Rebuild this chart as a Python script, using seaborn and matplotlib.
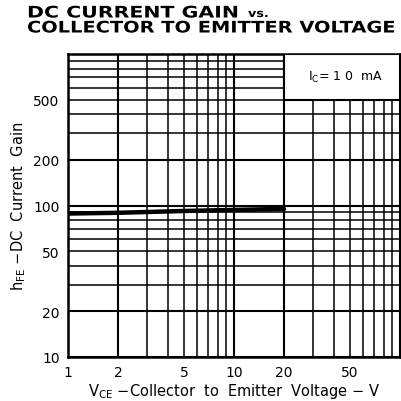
import matplotlib
matplotlib.use("Agg")
import matplotlib.pyplot as plt
import matplotlib.patches as patches
from matplotlib.patheffects import AbstractPathEffect
from matplotlib.transforms import Affine2D
import seaborn as sns
import pandas as pd
import numpy as np

# curve
vce = [1, 2, 5, 10, 20]
hfe = [88.5, 89.5, 92, 93.5, 95]

x_ticks = [1, 2, 5, 10, 20, 50]
y_ticks = [10, 20, 50, 100, 200, 500]
x_grid = [m * d for d in (1, 10) for m in range(1, 10)] + [100]
y_grid = [m * d for d in (10, 100) for m in range(1, 10)] + [1000]
major = [1, 10, 100, 1000, 2, 20, 200]

title_1 = "DC CURRENT GAIN"
title_vs = "vs."
title_2 = "COLLECTOR TO EMITTER VOLTAGE"
note = r"$\mathregular{I_C}$= 1 0  mA"

sns.set_style("white")
plt.rcParams['font.family'] = ['DejaVu Sans']
plt.rcParams['text.color'] = 'black'
plt.rcParams['axes.labelcolor'] = 'black'
plt.rcParams['xtick.color'] = 'black'
plt.rcParams['ytick.color'] = 'black'


class Stretch(AbstractPathEffect):
    """Widen text horizontally from its left end (wide printed letters)."""

    def __init__(self, sx):
        super().__init__()
        self.sx = sx

    def draw_path(self, renderer, gc, tpath, affine, rgbFace=None):
        x0, y0 = affine.transform((0, 0))
        aff = affine + Affine2D().translate(-x0, -y0).scale(self.sx, 1).translate(x0, y0)
        renderer.draw_path(gc, tpath, aff, rgbFace)


df = pd.DataFrame({"vce": vce, "hfe": hfe})

fig = plt.figure(figsize=(4.02, 4.02), dpi=100)
ax = fig.add_axes([68 / 402, 44 / 402, 332 / 402, 303 / 402])
ax.set_xscale("log")
ax.set_yscale("log")
ax.set_xlim(1, 100)
ax.set_ylim(10, 1000)

# printed log-log grid
for v in x_grid:
    ax.axvline(v, color="black", lw=1.5 if v in major else 1.1, zorder=1)
for v in y_grid:
    ax.axhline(v, color="black", lw=1.5 if v in major else 1.1, zorder=1)

sns.lineplot(data=df, x="vce", y="hfe", ax=ax, color="black", lw=3.2, zorder=3)

# label box in the upper right corner
ax.add_patch(patches.Rectangle((20, 500), 80, 500, facecolor="white",
                               edgecolor="black", lw=1.5, zorder=4))
ax.text(47, 710, note, ha="center", va="center", fontsize=9, zorder=5)

ax.set_xticks(x_ticks)
ax.set_xticklabels([str(t) for t in x_ticks])
ax.set_yticks(y_ticks)
ax.set_yticklabels([str(t) for t in y_ticks])
ax.xaxis.set_minor_locator(matplotlib.ticker.NullLocator())
ax.yaxis.set_minor_locator(matplotlib.ticker.NullLocator())
ax.tick_params(length=0, labelsize=10, pad=6)

ax.set_xlabel(r"$\mathregular{V_{CE}}$ $-$Collector  to  Emitter  Voltage $-$ V",
              fontsize=10.5, labelpad=1)
ax.set_ylabel(r"$\mathregular{h_{FE}}$ $-$DC  Current  Gain", fontsize=10.5, labelpad=4)
for s in ax.spines.values():
    s.set_linewidth(1.8)
    s.set_color("black")

# title, widened to the printed width
renderer = fig.canvas.get_renderer()
size = 11.5


def width(s):
    t = fig.text(0, 0, s, fontsize=size, fontweight="bold")
    w = t.get_window_extent(renderer).width
    t.remove()
    return w


sx1 = (240 - 27) / width(title_1)
sx2 = 370 / width(title_2)

fig.text(27 / 402, 1 - 21.5 / 402, title_1, ha="left", va="bottom",
         fontsize=size, fontweight="bold", path_effects=[Stretch(sx1)])
fig.text(27 / 402, 1 - 21.5 / 402, title_2, ha="left", va="top",
         fontsize=size, fontweight="bold", path_effects=[Stretch(sx2)])
fig.text(248 / 402, 1 - 18 / 402, title_vs, ha="left", va="baseline",
         fontsize=8, fontweight="bold", path_effects=[Stretch(1.15)])

fig.savefig("out.png", dpi=100)
